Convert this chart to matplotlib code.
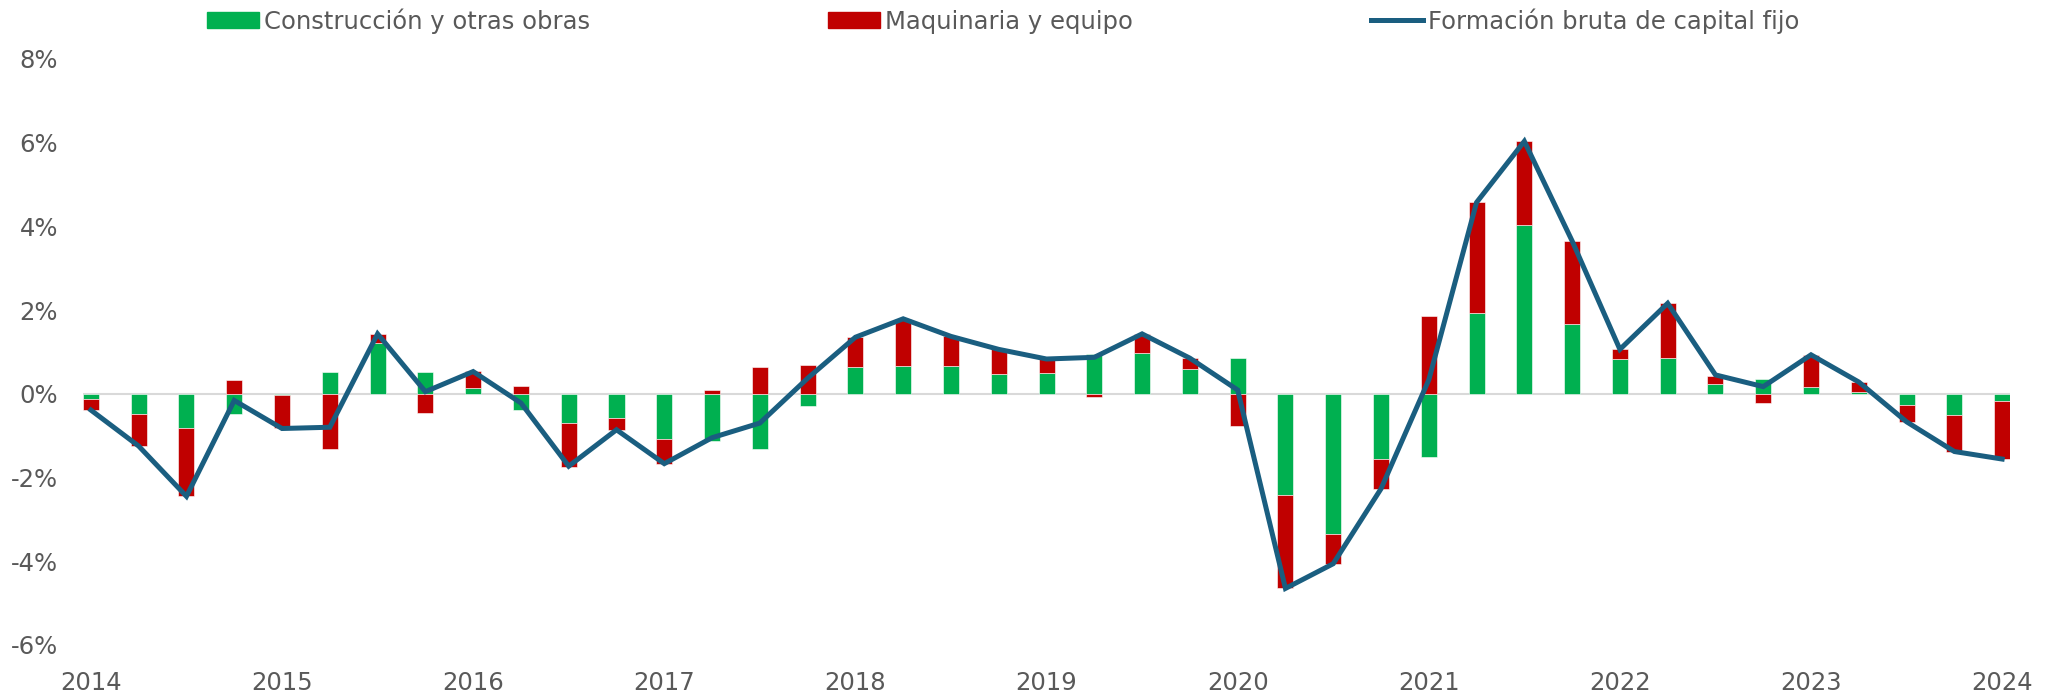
import numpy as np
import matplotlib
matplotlib.use("Agg")
import matplotlib.pyplot as plt
from matplotlib.patches import Patch
from matplotlib.lines import Line2D
from matplotlib.ticker import FuncFormatter

# DATA (contribuciones trimestrales, %)
construccion = [-0.12, -0.49, -0.81, -0.48, -0.02, 0.53, 1.22, 0.51, 0.14, -0.40,
                -0.70, -0.57, -1.09, -1.12, -1.33, -0.30, 0.64, 0.66, 0.66, 0.47,
                0.50, 0.95, 0.97, 0.58, 0.86, -2.43, -3.34, -1.56, -1.51, 1.93,
                4.02, 1.66, 0.82, 0.85, 0.24, 0.36, 0.15, 0.04, -0.28, -0.51, -0.17]
maquinaria = [-0.27, -0.76, -1.64, 0.32, -0.81, -1.33, 0.21, -0.46, 0.40, 0.18,
              -1.04, -0.29, -0.58, 0.08, 0.63, 0.68, 0.71, 1.13, 0.71, 0.59,
              0.33, -0.08, 0.46, 0.27, -0.77, -2.22, -0.72, -0.71, 1.85, 2.64,
              2.01, 1.99, 0.24, 1.31, 0.19, -0.22, 0.78, 0.24, -0.39, -0.87, -1.39]
fbcf = [-0.39, -1.25, -2.45, -0.16, -0.83, -0.80, 1.43, 0.05, 0.53, -0.22,
        -1.73, -0.86, -1.67, -1.05, -0.70, 0.37, 1.35, 1.79, 1.37, 1.06,
        0.83, 0.87, 1.43, 0.85, 0.09, -4.65, -4.06, -2.27, 0.33, 4.57,
        6.03, 3.65, 1.06, 2.16, 0.45, 0.17, 0.93, 0.28, -0.67, -1.38, -1.56]
years = ['2014', '2015', '2016', '2017', '2018', '2019', '2020', '2021', '2022', '2023', '2024']

GREEN = '#00B050'
RED = '#C00000'
BLUE = '#1A5E80'
GREY = '#595959'
FS = 17.5

plt.rcParams['font.family'] = ['DejaVu Sans']

x = np.arange(len(fbcf))
cons = np.array(construccion)
maq = np.array(maquinaria)
# red stacks on top of green when same sign, otherwise starts from zero
maq_bottom = np.where(np.sign(cons) == np.sign(maq), cons, 0.0)

w = 0.335
fig = plt.figure(figsize=(20.47, 6.92), dpi=100)
ax = fig.add_axes([0.0405, 0.068, 0.9415, 0.847])

ax.axhline(0, color='#D9D9D9', lw=1.5, zorder=1)
ax.bar(x, cons, width=w, color=GREEN, edgecolor='white', linewidth=0.4, zorder=2)
ax.bar(x, maq, width=w, bottom=maq_bottom, color=RED, edgecolor='white', linewidth=0.4, zorder=2)
ax.plot(x, fbcf, color=BLUE, lw=3.6, solid_joinstyle='miter', zorder=3)

ax.set_xlim(-w / 2, len(fbcf) - 1 + w / 2)
ax.set_ylim(-6, 8)
ax.set_yticks(np.arange(-6, 9, 2))
ax.yaxis.set_major_formatter(FuncFormatter(lambda v, p: f'{v:.0f}%'))
ax.set_xticks(np.arange(0, len(fbcf), 4))
ax.set_xticklabels(years)

for s in ax.spines.values():
    s.set_visible(False)
ax.tick_params(axis='both', length=0, colors=GREY, labelsize=FS)
ax.tick_params(axis='x', pad=19)
ax.tick_params(axis='y', pad=18)

handles = [Patch(color=GREEN), Patch(color=RED), Line2D([], [], color=BLUE, lw=3.6)]
labels = ['Construcción y otras obras', 'Maquinaria y equipo', 'Formación bruta de capital fijo']
leg = fig.legend(handles, labels, loc='center', bbox_to_anchor=(0.49, 0.97), ncol=3,
                 frameon=False, fontsize=FS, handlelength=2.14, handleheight=0.65,
                 handletextpad=0.2, columnspacing=9.8, labelcolor=GREY)

fig.savefig('out.png', dpi=100)
